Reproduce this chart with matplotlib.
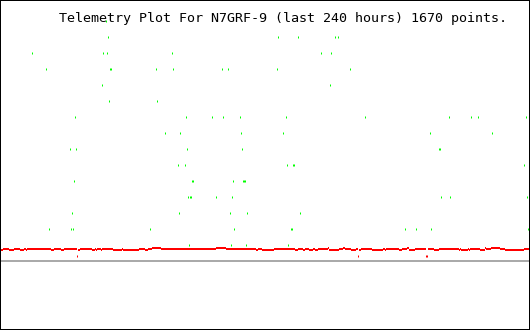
"""
telemetry_plot.py
-----------------
Telemetry strip for N7GRF-9 over the last 240 hours.

Two channels share one axis: a sparse green channel that sits on fixed
16-count steps, and a red channel that runs just above the zero line.

Output: out.png (530 x 330 px)
"""

import matplotlib

matplotlib.use("Agg")
import matplotlib.pyplot as plt
import numpy as np

# ── Data ──────────────────────────────────────────────────────────────────────

TITLE = "Telemetry Plot For N7GRF-9 (last 240 hours) 1670 points."

# green channel: one list of time slots per value step
GREEN_VALUES = [240, 224, 208, 192, 176, 160, 144, 128, 112, 96, 80, 64, 48, 32, 16]
GREEN_TIMES = [
    [105],
    [107, 277, 297, 334, 337],
    [31, 102, 106, 171, 320, 330],
    [45, 109, 110, 155, 172, 221, 227, 276, 349],
    [101, 329],
    [108, 156],
    [74, 185, 211, 222, 239, 285, 364, 448, 470, 477, 525],
    [164, 179, 240, 282, 429, 491],
    [69, 75, 186, 241, 438, 439],
    [177, 184, 286, 292, 293, 523],
    [73, 191, 192, 232, 242, 243, 244],
    [187, 189, 190, 215, 231, 440, 449, 526],
    [71, 178, 229, 246, 299],
    [48, 70, 72, 149, 233, 290, 291, 404, 415, 430, 527],
    [188, 230, 245, 287],
]

# red channel: value holds from each start slot to the next (nan = dropout)
RED_START = [
    0, 2, 8, 13, 19, 23, 25, 26, 50, 53, 60, 63, 76, 77, 79, 91, 94, 95, 96,
    100, 101, 112, 121, 122, 138, 144, 147, 151, 160, 215, 225, 255, 257, 261,
    273, 294, 297, 302, 304, 308, 312, 314, 317, 327, 328, 338, 342, 344, 350,
    355, 357, 358, 360, 371, 382, 384, 385, 398, 401, 406, 408, 414, 425, 427,
    433, 438, 458, 459, 460, 467, 468, 469, 479, 484, 485, 490, 499, 504, 523,
]
RED_VALUE = [
    11, 12, 11, 12, 11, 12, 11, 12, 11, 12, 11, 12, np.nan, 11, 12, 11, 12, 11,
    12, 11, 12, 11, 12, 11, 12, 11, 12, 13, 12, 13, 12, 11, 12, 11, 12, 11, 12,
    11, 12, 11, 12, 11, 12, 13, 11, 12, 13, 12, 11, 12, np.nan, 11, 12, 11, 12,
    11, 12, 11, 12, 13, 11, 12, np.nan, 12, 11, 12, 11, 12, 11, 12, 11, 12, 11,
    13, 12, 13, 12, 11, 12,
]
RED_END = 529

# isolated low red readings
RED_DROP_TIMES = [76, 357, 425, 426]
RED_DROP_VALUES = [5, 5, 5, 5]

# ── Style ─────────────────────────────────────────────────────────────────────

W, H, DPI = 530, 330, 100
PX = 72 / DPI  # points per pixel

GREEN = "#00ff00"
RED = "#ff0000"
GRAY = "#aaaaaa"


def main() -> None:
    fig = plt.figure(figsize=(W / DPI, H / DPI), dpi=DPI)
    fig.patch.set_facecolor("white")
    ax = fig.add_axes([0, 0, 1, 1])

    # zero line
    ax.axhline(0, color=GRAY, lw=2 * PX, antialiased=False, zorder=1)

    # red channel as flat runs
    ends = RED_START[1:] + [RED_END]
    ax.hlines(
        RED_VALUE, RED_START, ends,
        color=RED, lw=2 * PX, antialiased=False, zorder=2,
    )
    ax.plot(
        RED_DROP_TIMES, RED_DROP_VALUES, ls="none",
        marker="|", ms=2 * PX, mew=1 * PX, color=RED, antialiased=False, zorder=2,
    )

    # green channel
    gx = [t for times in GREEN_TIMES for t in times]
    gy = [v for v, times in zip(GREEN_VALUES, GREEN_TIMES) for _ in times]
    ax.plot(
        gx, gy, ls="none",
        marker="|", ms=2 * PX, mew=1 * PX, color=GREEN, antialiased=False, zorder=3,
    )

    ax.set_xlim(-0.5, W - 0.5)
    ax.set_ylim(261 - H, 261)
    ax.set_xticks([])
    ax.set_yticks([])
    for spine in ax.spines.values():
        spine.set_color("black")
        spine.set_linewidth(2 * PX)
        spine.set_antialiased(False)

    fig.text(
        59 / W, 1 - 22 / H, TITLE,
        ha="left", va="baseline", fontsize=9.6,
        family="DejaVu Sans Mono", color="black",
    )

    fig.savefig("out.png", dpi=DPI)


if __name__ == "__main__":
    main()
